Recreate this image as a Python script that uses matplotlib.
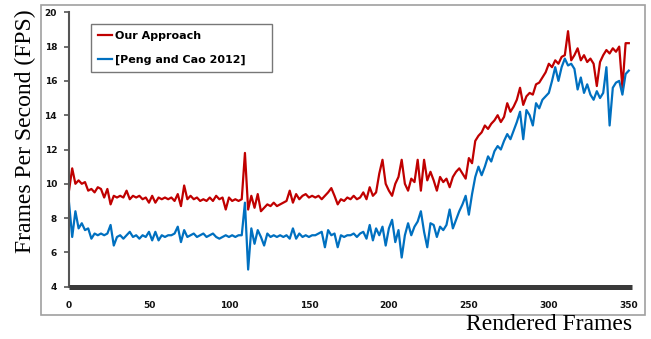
import matplotlib
matplotlib.use("Agg")
import matplotlib.pyplot as plt
from matplotlib.patches import Rectangle
import numpy as np

# frame numbers (every 2nd rendered frame)
frames = np.arange(0, 351, 2)

# Our Approach (FPS)
fps_ours = [
    9.6, 10.9, 10.0, 10.2, 10.0, 10.1, 9.6, 9.7, 9.5, 9.8,      # 0-18
    9.7, 9.2, 9.7, 8.8, 9.3, 9.2, 9.3, 9.2, 9.6, 9.1,           # 20-38
    9.3, 9.2, 9.3, 9.1, 9.2, 8.9, 9.3, 8.9, 9.2, 9.1,           # 40-58
    9.2, 9.1, 9.2, 9.0, 9.4, 8.7, 9.9, 9.1, 9.3, 9.1,           # 60-78
    9.2, 9.0, 9.1, 9.0, 9.2, 9.0, 9.3, 9.1, 9.2, 8.5,           # 80-98
    9.2, 9.0, 9.1, 9.0, 9.1, 11.8, 8.5, 9.3, 8.6, 9.4,          # 100-118
    8.4, 8.6, 8.8, 8.7, 8.9, 8.7, 8.8, 8.9, 9.0, 9.6,           # 120-138
    8.9, 9.4, 9.1, 9.3, 9.4, 9.2, 9.3, 9.2, 9.3, 9.1,           # 140-158
    9.3, 9.5, 9.75, 9.3, 8.8, 9.1, 9.0, 9.2, 9.1, 9.3,          # 160-178
    9.1, 9.2, 9.5, 9.1, 9.8, 9.3, 9.5, 10.6, 11.4, 10.0,        # 180-198
    9.6, 9.3, 10.0, 10.4, 11.4, 10.0, 9.6, 10.3, 10.1, 11.4,    # 200-218
    9.6, 11.4, 10.2, 10.7, 10.2, 9.6, 10.4, 10.1, 10.3, 9.8,    # 220-238
    10.4, 10.7, 10.9, 10.6, 10.3, 11.5, 11.2, 12.5, 12.8, 13.0, # 240-258
    13.4, 13.2, 13.5, 13.7, 14.0, 13.6, 13.9, 14.7, 14.2, 14.5, # 260-278
    14.9, 15.6, 14.6, 15.1, 15.3, 15.2, 15.8, 15.9, 16.2, 16.5, # 280-298
    17.0, 16.8, 17.2, 17.0, 17.4, 17.5, 18.9, 17.2, 17.5, 17.9, # 300-318
    17.2, 17.5, 17.1, 17.3, 17.0, 15.7, 17.1, 17.5, 17.8, 17.6, # 320-338
    17.9, 17.7, 18.0, 15.6, 18.2, 18.2,                         # 340-350
]

# [Peng and Cao 2012] (FPS)
fps_peng = [
    8.9, 6.9, 8.4, 7.4, 7.7, 7.3, 7.4, 6.8, 7.1, 7.0,           # 0-18
    7.1, 7.0, 7.1, 7.6, 6.4, 6.9, 7.0, 6.8, 7.0, 7.2,           # 20-38
    6.9, 7.0, 6.8, 7.0, 6.9, 7.2, 6.7, 7.2, 6.7, 7.0,           # 40-58
    6.9, 7.0, 7.0, 7.1, 7.5, 6.6, 7.3, 6.9, 7.0, 7.1,           # 60-78
    6.9, 7.0, 7.1, 6.9, 7.0, 7.1, 6.9, 6.8, 6.9, 7.0,           # 80-98
    6.9, 7.0, 6.9, 7.0, 7.0, 8.9, 5.0, 7.4, 6.5, 7.3,           # 100-118
    6.9, 6.4, 7.1, 6.9, 7.0, 6.9, 7.0, 6.9, 7.0, 6.8,           # 120-138
    7.4, 6.8, 7.1, 6.9, 7.0, 6.9, 7.0, 7.0, 7.1, 7.2,           # 140-158
    6.3, 7.3, 7.0, 7.1, 6.3, 7.0, 6.9, 7.0, 7.0, 7.1,           # 160-178
    6.9, 7.1, 7.2, 6.8, 7.6, 6.7, 7.4, 7.0, 7.5, 6.4,           # 180-198
    7.4, 7.9, 6.6, 7.3, 5.7, 7.0, 7.7, 7.0, 7.5, 7.8,           # 200-218
    8.4, 7.2, 6.3, 7.7, 7.6, 6.9, 7.5, 7.3, 7.6, 8.5,           # 220-238
    7.4, 7.9, 8.4, 8.8, 9.3, 8.2, 9.4, 10.4, 11.0, 10.5,        # 240-258
    11.0, 11.6, 11.3, 11.9, 12.2, 12.0, 12.5, 12.9, 12.6, 13.1, # 260-278
    13.6, 14.2, 12.6, 14.3, 14.0, 13.4, 14.7, 14.4, 14.9, 15.1, # 280-298
    15.3, 16.0, 16.8, 16.0, 16.8, 17.3, 16.9, 17.0, 16.7, 15.5, # 300-318
    16.2, 15.3, 15.8, 15.2, 14.9, 15.4, 15.0, 15.3, 16.8, 13.4, # 320-338
    15.6, 15.9, 16.0, 15.2, 16.4, 16.6,                         # 340-350
]

labels = ["Our Approach", "[Peng and Cao 2012]"]
colors = ["#C00000", "#0070C0"]
x_ticks = [0, 50, 100, 150, 200, 250, 300, 350]
y_ticks = [4, 6, 8, 10, 12, 14, 16, 18, 20]

W, H = 651, 339
fig = plt.figure(figsize=(W / 100, H / 100), dpi=100)
ax = fig.add_axes([69 / W, 52.3 / H, 563 / W, 274.4 / H])

ax.plot(frames, fps_ours, color=colors[0], lw=1.6, label=labels[0])
ax.plot(frames, fps_peng, color=colors[1], lw=1.6, label=labels[1])

ax.set_xlim(0, 352)
ax.set_ylim(4, 20)
ax.set_xticks(x_ticks)
ax.set_yticks(y_ticks)

for s in ["top", "right"]:
    ax.spines[s].set_visible(False)
ax.spines["bottom"].set_linewidth(3.6)
ax.spines["bottom"].set_color("#3a3a3a")
ax.spines["bottom"].set_capstyle("butt")
ax.spines["left"].set_linewidth(1.5)
ax.spines["left"].set_color("#555555")

ax.tick_params(axis="x", length=0, pad=10)
ax.tick_params(axis="y", direction="out", length=3.6, width=1.2,
               color="#555555", pad=5)
for t in ax.get_xticklabels() + ax.get_yticklabels():
    t.set_fontsize(6.5)
    t.set_fontweight("bold")
    t.set_color("#111111")

# legend box stretched to the width seen in the original
leg = ax.legend(loc="upper left", mode="expand",
                bbox_to_anchor=(91 / W, 1 - 73 / H, 181 / W, 49 / H),
                bbox_transform=fig.transFigure, frameon=True, fancybox=False,
                prop={"size": 8, "weight": "bold"}, handlelength=1.2,
                handletextpad=0.3, labelspacing=1.2, borderpad=0.65,
                borderaxespad=0)
leg.get_frame().set_edgecolor("#555555")
leg.get_frame().set_linewidth(1.0)

# axis titles in a Times-like serif
fig.text(25 / W, 1 - 131.5 / H, "Frames Per Second (FPS)", rotation=90,
         ha="center", va="center", family="Liberation Serif", fontsize=17)
fig.text(632 / W, 1 - 324 / H, "Rendered Frames", ha="right", va="center",
         family="Liberation Serif", fontsize=17)

# light grey frame around the plot area
fig.patches.append(Rectangle((41 / W, 1 - 315 / H), 604 / W, 310 / H,
                             transform=fig.transFigure, fill=False,
                             edgecolor="#a0a0a0", lw=1.2))

fig.savefig("out.png", dpi=100)
